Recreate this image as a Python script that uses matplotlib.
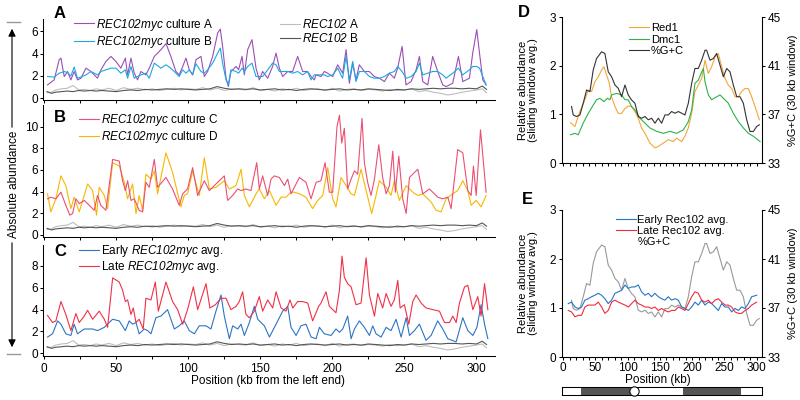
import numpy as np
import matplotlib
matplotlib.use("Agg")
import matplotlib.pyplot as plt
from matplotlib.lines import Line2D

matplotlib.rc('font', family='Liberation Sans', size=8.5)
# \mathsf is mapped to the italic face so digits come out slanted too
matplotlib.rc('mathtext', fontset='custom', sf='Liberation Sans:italic',
              it='Liberation Sans:italic', rm='Liberation Sans')
matplotlib.rc('axes', linewidth=0.75)

# ---- panel A: REC102myc cultures A and B (kb from left end)
pos_ab = [2.3, 6.9, 10.4, 11.6, 13.9, 16.2, 18.5, 20.8, 23.1, 25.5,
          29.0, 32.4, 37.0, 39.4, 42.8, 46.3, 49.8, 53.2, 56.3, 57.9,
          60.2, 62.5, 64.8, 67.1, 70.6, 72.9, 76.4, 81.0, 84.5, 87.9,
          91.4, 93.7, 96.1, 98.4, 100.7, 103.0, 105.3, 108.8, 111.1, 113.4,
          116.9, 120.4, 122.2, 123.8, 126.2, 127.8, 129.6, 133.1, 134.9, 137.3,
          138.9, 141.2, 144.2, 147.0, 149.3, 151.6, 155.1, 158.5, 160.9, 163.2,
          165.5, 169.0, 172.4, 175.9, 179.4, 182.8, 185.2, 187.5, 188.6, 192.1,
          194.4, 196.7, 200.2, 203.7, 207.1, 209.5, 211.8, 214.1, 216.4, 218.7,
          222.2, 225.7, 229.1, 232.6, 236.1, 239.6, 243.0, 245.3, 248.4, 251.1,
          254.6, 258.1, 260.4, 262.7, 266.2, 269.6, 273.1, 276.6, 278.9, 283.5,
          287.5, 290.5, 295.1, 297.4, 300.2, 302.1, 304.4, 306.7]
myc_a = [1.2, 1.65, 3.45, 3.6, 1.95, 2.4, 1.65, 2.4, 1.65, 1.8,
         2.7, 2.4, 1.8, 2.55, 3.3, 3.75, 3.3, 2.7, 3.6, 2.1,
         3.6, 2.25, 1.65, 2.4, 2.1, 2.7, 3.75, 4.35, 4.9, 3.75,
         2.4, 2.1, 2.85, 3.6, 2.55, 2.1, 3.45, 3.75, 1.95, 2.4,
         3.75, 5.85, 6.2, 4.65, 1.8, 1.05, 2.4, 2.85, 2.55, 3.75,
         2.1, 4.35, 5.25, 2.7, 1.65, 2.4, 1.8, 2.85, 4.05, 2.7,
         1.95, 2.4, 2.4, 3.75, 2.4, 2.4, 1.95, 1.65, 2.1, 1.95,
         2.4, 2.25, 1.95, 3.0, 2.25, 4.35, 1.35, 3.15, 1.65, 3.0,
         2.4, 2.4, 1.95, 1.8, 1.5, 2.25, 1.8, 2.7, 4.65, 1.2,
         1.5, 2.55, 3.75, 1.5, 1.2, 3.75, 2.4, 1.2, 1.05, 1.35,
         3.75, 1.5, 1.8, 4.05, 6.15, 4.05, 1.65, 1.2]
myc_b = [1.95, 1.9, 2.25, 2.3, 2.4, 2.3, 2.0, 2.8, 1.8, 1.9,
         2.1, 2.4, 2.1, 2.4, 2.55, 2.7, 2.7, 2.25, 2.55, 1.8,
         2.85, 1.8, 1.95, 2.1, 2.25, 1.8, 3.15, 2.7, 3.0, 2.7,
         2.25, 1.95, 2.55, 2.25, 2.55, 2.1, 3.1, 2.4, 2.25, 2.55,
         3.15, 4.05, 4.5, 3.15, 1.65, 1.2, 2.55, 2.4, 2.25, 2.7,
         2.4, 2.85, 3.15, 1.95, 1.95, 1.95, 2.55, 3.15, 3.0, 2.4,
         2.4, 2.4, 2.25, 2.4, 2.1, 2.4, 1.65, 2.1, 2.1, 2.1,
         2.1, 1.95, 2.1, 2.7, 1.8, 3.75, 1.65, 3.3, 1.5, 2.4,
         2.4, 1.95, 1.8, 1.8, 1.95, 2.25, 2.4, 2.85, 2.4, 1.8,
         1.95, 2.4, 3.15, 2.1, 2.25, 2.4, 2.4, 2.1, 1.8, 2.25,
         2.7, 2.1, 2.55, 2.85, 2.85, 2.7, 1.95, 1.2]

# ---- untagged REC102 controls (shown in A, B and C)
ctrl_pos = [2, 5, 8, 12, 16, 20, 24, 28, 32, 36, 40, 45, 50, 55, 60, 65, 70, 75,
            80, 85, 90, 95, 100, 105, 110, 115, 120, 125, 130, 135, 140, 145, 150,
            155, 160, 165, 170, 175, 180, 185, 190, 195, 200, 205, 210, 215, 220,
            225, 230, 235, 240, 245, 250, 255, 260, 265, 270, 275, 280, 285, 290,
            295, 300, 304, 307]
ctrl_a = [0.5, 0.55, 0.75, 0.85, 0.9, 1.15, 0.75, 0.8, 0.7, 0.85,
          0.75, 0.9, 0.7, 0.95, 0.8, 0.9, 0.75, 0.85, 0.7, 0.8,
          0.9, 0.75, 0.85, 0.8, 0.95, 0.75, 0.9, 0.7, 0.85, 0.8,
          0.75, 0.95, 0.7, 0.8, 0.65, 0.85, 0.75, 0.9, 0.7, 0.8,
          0.85, 0.7, 0.9, 0.65, 0.8, 0.85, 0.7, 0.8, 0.75, 0.65,
          0.8, 0.7, 0.75, 0.85, 0.6, 0.7, 0.55, 0.45, 0.3, 0.4,
          0.55, 0.65, 0.75, 0.85, 0.5]
ctrl_b = [0.6, 0.45, 0.55, 0.6, 0.65, 0.6, 0.7, 0.65, 0.7, 0.65,
          0.7, 0.65, 0.6, 0.7, 0.75, 0.7, 0.8, 0.75, 0.8, 0.85,
          0.8, 0.85, 0.8, 0.75, 0.8, 0.85, 1.05, 0.9, 0.8, 0.85,
          0.8, 0.85, 0.75, 0.8, 0.85, 0.75, 0.8, 0.7, 0.8, 0.85,
          0.8, 0.75, 0.8, 0.85, 0.75, 0.8, 0.75, 0.85, 0.8, 0.75,
          0.7, 0.8, 0.75, 0.85, 0.8, 0.85, 0.9, 0.85, 0.9, 0.9,
          0.85, 0.9, 0.85, 1.1, 0.8]

# ---- panel B: cultures C and D
pos_c = [2.3, 4.6, 8.1, 11.6, 15.0, 17.8, 19.7, 22.0, 24.3, 27.8,
         31.3, 34.7, 37.0, 39.3, 42.8, 47.5, 52.1, 54.4, 56.3, 57.9,
         60.2, 62.5, 65.9, 68.3, 70.6, 72.9, 76.4, 78.7, 84.5, 89.1,
         93.7, 96.1, 99.5, 103.0, 106.5, 111.1, 114.6, 119.2, 125.0, 127.3,
         130.8, 134.3, 136.6, 140.0, 143.5, 147.5, 149.3, 151.6, 155.1, 157.4,
         159.7, 163.2, 166.7, 169.0, 171.3, 173.6, 177.1, 181.7, 185.2, 188.7,
         192.1, 194.9, 197.9, 200.2, 203.2, 204.9, 206.5, 208.3, 210.6, 213.0,
         215.3, 217.6, 220.6, 222.2, 224.5, 226.8, 229.2, 232.2, 234.9, 237.3,
         239.6, 241.9, 243.7, 246.1, 248.8, 251.2, 253.5, 256.9, 259.3, 262.7,
         267.4, 273.1, 276.6, 280.1, 282.4, 287.0, 290.5, 294.0, 296.3, 297.9,
         299.8, 302.8, 306.7]
myc_c = [3.33, 3.48, 3.33, 3.94, 2.73, 1.82, 1.97, 3.33, 2.88, 3.18,
         2.73, 2.27, 3.64, 2.73, 2.27, 6.97, 6.82, 5.0, 4.09, 5.0,
         3.18, 3.33, 2.27, 2.12, 4.85, 4.39, 6.97, 4.39, 5.3, 4.24,
         2.73, 3.79, 4.24, 6.21, 3.64, 5.0, 4.09, 4.7, 5.45, 3.18,
         3.64, 4.24, 4.09, 4.24, 4.09, 6.67, 4.24, 5.45, 3.64, 5.15,
         5.45, 5.3, 4.55, 5.15, 3.79, 4.39, 5.3, 4.85, 3.33, 4.85,
         5.0, 6.67, 3.94, 3.94, 10.0, 11.06, 8.48, 9.85, 4.24, 5.15,
         5.91, 5.61, 10.76, 6.67, 4.85, 3.64, 5.15, 8.33, 5.3, 3.79,
         4.55, 7.73, 3.94, 7.27, 3.33, 1.97, 5.3, 5.76, 6.06, 3.79,
         4.24, 3.48, 3.33, 3.48, 2.42, 7.88, 7.58, 4.09, 3.64, 6.36,
         3.64, 9.7, 3.94]
pos_d = [2.3, 4.6, 8.1, 11.6, 15.0, 18.5, 20.8, 24.3, 27.8, 30.1,
         33.6, 36.3, 38.2, 41.7, 44.0, 47.5, 52.1, 55.6, 57.9, 61.3,
         63.7, 65.9, 68.3, 70.6, 74.1, 76.4, 78.7, 84.5, 89.1, 94.9,
         97.2, 99.5, 103.0, 107.6, 111.1, 114.6, 119.2, 125.0, 128.5, 133.1,
         136.6, 138.9, 142.4, 147.0, 149.3, 152.8, 156.3, 160.9, 164.4, 167.8,
         171.3, 173.6, 177.1, 181.7, 186.3, 189.8, 193.3, 196.8, 200.2, 202.5,
         206.0, 209.5, 213.0, 215.3, 219.9, 223.4, 227.3, 230.3, 232.6, 237.3,
         240.7, 243.0, 246.5, 251.2, 255.8, 259.3, 262.7, 268.5, 272.0, 275.5,
         278.9, 283.5, 287.0, 290.5, 294.0, 296.3, 299.8, 303.2, 306.7]
myc_d = [3.79, 2.12, 3.33, 5.45, 4.55, 2.42, 3.48, 2.12, 3.64, 4.7,
         4.09, 1.82, 4.39, 3.64, 2.42, 6.67, 6.36, 4.85, 3.33, 4.7,
         1.97, 3.64, 2.27, 5.61, 5.15, 5.91, 3.79, 7.58, 5.76, 2.58,
         3.64, 3.79, 5.91, 3.64, 7.12, 4.24, 4.39, 5.0, 4.24, 4.55,
         6.06, 3.64, 2.58, 3.79, 4.24, 3.33, 4.09, 2.73, 3.48, 3.48,
         3.94, 3.94, 3.79, 3.48, 2.42, 3.18, 3.64, 6.21, 3.33, 2.58,
         5.3, 4.55, 3.79, 3.64, 6.06, 4.09, 1.97, 3.64, 5.0, 4.39,
         3.64, 5.0, 3.18, 4.55, 3.94, 3.64, 3.79, 3.03, 2.27, 2.12,
         3.33, 3.79, 4.09, 5.0, 4.09, 2.73, 3.18, 2.58, 3.64]

# ---- panel C: early / late averages
pos_late = [2.3, 5.8, 8.1, 11.6, 15.0, 18.5, 22.0, 24.3, 27.8, 30.1,
            33.6, 38.2, 41.7, 44.0, 47.5, 52.1, 54.4, 56.3, 57.9, 60.2,
            61.8, 63.7, 65.9, 68.7, 70.6, 74.1, 77.1, 79.2, 84.5, 89.1,
            92.6, 96.1, 99.5, 103.5, 106.5, 112.3, 115.0, 118.8, 122.7, 126.2,
            129.6, 133.1, 135.4, 137.7, 140.0, 142.4, 145.8, 149.3, 151.6, 155.1,
            158.6, 160.9, 164.4, 167.8, 170.6, 172.5, 175.9, 179.4, 182.9, 186.3,
            190.5, 192.1, 195.6, 197.9, 202.5, 204.9, 206.7, 208.3, 210.6, 213.0,
            216.4, 219.9, 223.4, 225.7, 229.2, 231.5, 234.9, 237.3, 240.7, 243.0,
            245.4, 247.0, 250.0, 253.0, 255.8, 258.1, 261.6, 265.0, 269.7, 274.3,
            277.8, 281.3, 283.6, 285.9, 288.2, 291.7, 294.0, 297.5, 300.9, 303.2,
            305.6, 307.9]
late_avg = [3.46, 2.81, 2.96, 4.73, 3.55, 2.07, 3.64, 2.81, 3.4, 3.93,
            3.11, 3.85, 3.11, 2.37, 6.89, 6.51, 5.77, 4.73, 4.88, 3.55,
            4.14, 2.81, 3.11, 2.22, 5.03, 4.88, 6.51, 3.85, 6.51, 4.73,
            3.99, 2.66, 3.99, 6.07, 3.99, 6.36, 4.14, 4.44, 5.03, 5.03,
            3.99, 4.29, 4.73, 5.62, 3.55, 3.25, 3.85, 5.18, 3.85, 4.88,
            4.14, 5.62, 4.14, 3.85, 4.88, 4.14, 4.73, 4.73, 4.59, 2.96,
            4.29, 4.59, 5.62, 4.29, 3.7, 5.77, 8.88, 6.95, 6.36, 6.07,
            4.44, 4.59, 8.73, 5.33, 3.4, 5.47, 4.14, 5.47, 4.29, 4.88,
            6.66, 4.14, 4.44, 2.66, 4.73, 5.33, 4.59, 4.14, 3.99, 3.85,
            2.81, 2.81, 3.4, 2.81, 4.59, 6.07, 6.21, 3.99, 5.18, 3.4,
            6.36, 3.99]
pos_early = [2.3, 5.8, 9.3, 11.6, 15.0, 18.5, 20.8, 23.1, 27.8, 33.6,
             37.0, 41.7, 47.5, 52.1, 56.3, 59.0, 61.3, 63.7, 65.9, 69.4,
             71.8, 74.1, 77.5, 81.0, 85.6, 90.3, 93.7, 97.2, 100.7, 104.2,
             107.6, 112.3, 115.7, 119.2, 122.7, 125.0, 128.5, 130.8, 134.3, 136.6,
             138.9, 142.4, 145.8, 148.2, 152.8, 156.3, 160.9, 165.5, 169.0, 171.3,
             174.8, 178.2, 181.7, 185.2, 188.7, 191.0, 194.4, 199.1, 202.5, 204.9,
             207.2, 210.6, 213.0, 215.3, 218.7, 222.2, 225.7, 228.0, 230.3, 233.8,
             237.3, 240.7, 244.2, 247.7, 251.2, 253.5, 256.9, 260.4, 265.0, 268.5,
             273.1, 276.6, 280.1, 285.9, 290.5, 294.0, 297.5, 300.3, 303.2, 305.6,
             307.9]
early_avg = [1.48, 1.78, 2.96, 2.66, 1.78, 1.63, 2.66, 1.78, 2.22, 2.22,
             2.07, 2.37, 3.11, 2.96, 2.07, 2.96, 2.66, 2.81, 1.78, 2.22,
             2.07, 1.78, 3.25, 3.4, 3.99, 2.22, 2.51, 2.96, 2.07, 1.78,
             2.51, 2.51, 2.22, 3.85, 5.33, 3.4, 1.33, 2.51, 2.22, 2.66,
             1.63, 2.81, 4.29, 3.11, 2.51, 1.48, 2.66, 3.85, 4.29, 2.37,
             1.63, 2.51, 2.66, 1.48, 1.33, 2.37, 1.78, 1.63, 2.22, 1.92,
             2.22, 3.4, 1.33, 2.22, 2.96, 2.37, 1.63, 2.51, 1.78, 1.48,
             2.37, 2.07, 3.11, 1.48, 3.25, 1.63, 2.07, 2.66, 1.18, 1.63,
             2.96, 2.22, 1.33, 1.04, 3.25, 2.07, 1.63, 2.37, 4.44, 2.66,
             1.33]

# ---- panel D: sliding window averages
pos_red1 = [11.4, 18.1, 25.9, 33.6, 38.8, 44.0, 49.1, 54.3, 59.5, 63.1,
            67.2, 71.4, 75.0, 80.2, 85.3, 90.5, 95.7, 100.8, 106.0, 111.2,
            116.3, 121.5, 126.7, 134.4, 142.2, 147.4, 155.1, 162.9, 170.6, 175.8,
            183.6, 188.7, 193.9, 199.1, 204.2, 209.4, 214.6, 219.8, 224.9, 230.1,
            235.3, 240.4, 245.6, 250.8, 255.9, 261.1, 266.3, 271.5, 276.6, 281.8,
            287.0, 292.1, 297.3, 304.0]
red1 = [0.83, 0.75, 1.06, 1.3, 1.5, 1.47, 1.67, 1.77, 1.91, 1.98,
        1.81, 1.64, 1.36, 1.16, 1.02, 1.02, 1.12, 1.17, 1.16, 1.06,
        0.92, 0.72, 0.61, 0.41, 0.31, 0.34, 0.41, 0.48, 0.44, 0.51,
        0.44, 0.55, 0.72, 1.02, 1.47, 1.6, 1.74, 2.11, 1.84, 1.98,
        2.18, 2.25, 1.98, 1.74, 1.6, 1.53, 1.36, 1.36, 1.47, 1.53,
        1.53, 1.36, 1.16, 0.89]
pos_dmc1 = [11.4, 18.1, 23.3, 31.0, 38.8, 46.5, 51.7, 56.9, 63.1, 68.3,
            72.4, 75.0, 82.7, 90.5, 95.7, 100.8, 106.0, 111.2, 118.9, 126.7,
            134.4, 144.8, 155.1, 165.5, 175.8, 186.1, 193.9, 199.1, 204.2, 209.4,
            214.6, 217.2, 219.8, 224.9, 230.1, 237.8, 243.0, 248.2, 255.9, 263.7,
            271.5, 279.2, 287.0, 294.7, 305.1]
dmc1 = [0.58, 0.61, 0.58, 0.82, 1.02, 1.19, 1.3, 1.33, 1.26, 1.33,
        1.3, 1.4, 1.43, 1.4, 1.3, 1.3, 1.16, 1.09, 0.92, 0.82,
        0.72, 0.65, 0.61, 0.65, 0.61, 0.68, 0.85, 1.09, 1.64, 1.7,
        1.87, 1.94, 1.67, 1.4, 1.3, 1.36, 1.4, 1.33, 1.23, 1.02,
        0.85, 0.72, 0.61, 0.55, 0.44]
pos_gc = [12.9, 15.5, 20.7, 25.9, 31.0, 36.2, 41.4, 46.5, 51.7, 59.5,
          64.6, 69.8, 75.0, 80.2, 85.3, 90.5, 95.7, 100.8, 106.0, 111.2,
          116.3, 121.5, 126.7, 131.9, 137.0, 142.2, 147.4, 152.5, 157.7, 162.9,
          168.0, 173.2, 178.4, 183.6, 188.7, 193.9, 199.1, 204.2, 209.4, 214.6,
          219.8, 222.3, 227.5, 232.7, 237.8, 243.0, 248.2, 253.4, 258.5, 263.7,
          268.9, 274.0, 279.2, 284.4, 289.6, 294.7, 299.9, 304.0]
gc = [37.64, 36.95, 36.82, 36.95, 37.91, 39.0, 38.86, 40.64, 41.59, 42.14,
      42.0, 40.5, 40.09, 39.41, 39.14, 38.45, 39.41, 38.59, 38.18, 37.91,
      36.82, 36.68, 36.82, 36.55, 36.68, 36.27, 36.68, 36.27, 36.95, 36.95,
      37.23, 37.09, 37.23, 37.09, 36.95, 37.91, 39.55, 40.77, 40.77, 41.45,
      42.27, 42.27, 41.45, 41.59, 42.0, 41.05, 40.09, 40.77, 40.5, 39.41,
      38.45, 38.45, 37.91, 36.55, 35.59, 35.59, 36.0, 36.14]

# ---- panel E: Rec102 sliding window averages
pos_e = [7.8, 12.9, 18.1, 23.3, 28.4, 33.6, 38.8, 44.0, 49.1, 54.3,
         59.5, 64.6, 69.8, 75.0, 80.2, 85.3, 90.5, 95.7, 100.8, 106.0,
         111.2, 116.3, 121.5, 126.7, 131.9, 137.0, 142.2, 147.4, 152.5, 157.7,
         162.9, 168.0, 173.2, 178.4, 183.6, 188.7, 193.9, 199.1, 204.2, 209.4,
         214.6, 219.8, 224.9, 230.1, 235.3, 240.4, 245.6, 250.8, 255.9, 261.1,
         266.3, 271.5, 276.6, 281.8, 287.0, 292.1, 299.9]
early_e = [1.09, 1.12, 1.02, 0.99, 1.02, 1.16, 1.19, 1.23, 1.26, 1.3,
           1.26, 1.19, 1.09, 1.16, 1.3, 1.33, 1.36, 1.47, 1.4, 1.43,
           1.43, 1.47, 1.33, 1.26, 1.3, 1.23, 1.3, 1.23, 1.19, 1.16,
           1.23, 1.16, 1.19, 1.16, 1.02, 0.99, 0.95, 1.02, 1.12, 1.06,
           1.16, 1.06, 1.12, 1.09, 1.02, 0.95, 1.09, 1.02, 1.02, 0.92,
           0.99, 0.95, 1.02, 0.99, 1.09, 1.23, 1.26]
late_e = [0.95, 0.92, 0.82, 0.85, 0.85, 1.02, 1.06, 1.06, 1.06, 1.12,
          1.02, 0.89, 0.95, 1.12, 1.16, 1.12, 1.09, 1.06, 1.02, 1.09,
          1.16, 1.09, 1.06, 1.02, 1.02, 0.99, 1.02, 0.95, 0.99, 0.95,
          0.92, 0.95, 0.95, 1.02, 0.99, 0.95, 1.09, 1.23, 1.33, 1.3,
          1.16, 1.12, 1.16, 1.09, 1.16, 1.19, 1.12, 1.06, 1.06, 1.02,
          0.92, 0.89, 0.89, 0.95, 0.99, 1.06, 1.12]

# chromosome III map (kb): dark segments as (start, length), centromere
chrom_dark = [(27.4, 76.0), (185.1, 90.0)]
cen_pos = 109.6

LW = 0.8
ital = r'$\mathsf{REC102myc}$'


def left_axes(rect, ylim, yticks, xlabels=False):
    ax = fig.add_axes(rect)
    ax.set_xlim(-0.7, 313)
    ax.set_ylim(*ylim)
    ax.spines['top'].set_visible(False)
    ax.spines['right'].set_visible(False)
    ax.set_yticks(yticks)
    ax.set_xticks(np.arange(0, 301, 50))
    ax.set_xticks(np.arange(25, 313, 50), minor=True)
    ax.tick_params(which='both', length=2.5, width=0.75, pad=1)
    ax.tick_params(axis='x', which='both', pad=2.5)
    if not xlabels:
        ax.set_xticklabels([])
    ax.plot(ctrl_pos, ctrl_a, color='#bdbdbd', lw=LW)
    ax.plot(ctrl_pos, ctrl_b, color='#555555', lw=LW)
    return ax


def right_axes(rect, xlabels=False):
    ax = fig.add_axes(rect)
    ax.set_xlim(-2.5, 308.5)
    ax.set_ylim(0, 3)
    ax.set_yticks([0, 1, 2, 3])
    ax.set_xticks(np.arange(0, 301, 50))
    ax.set_xticks(np.arange(10, 301, 10), minor=True)
    ax.spines['top'].set_visible(False)
    ax.tick_params(which='both', length=2.5, width=0.75, pad=1.5)
    ax.tick_params(axis='x', which='both', pad=0.8)
    if not xlabels:
        ax.set_xticklabels([])
    ax2 = ax.twinx()
    ax2.set_ylim(33, 45)
    ax2.set_yticks([33, 37, 41, 45])
    ax2.spines['top'].set_visible(False)
    ax2.tick_params(length=2.5, width=0.75, pad=1.5)
    return ax, ax2


fig = plt.figure(figsize=(8, 4), dpi=100)
fig.patch.set_facecolor('white')

# A
axA = left_axes([0.054, 0.75, 0.565, 0.2025], (-0.15, 7.1), [0, 2, 4, 6])
la, = axA.plot(pos_ab, myc_a, color='#9b4fb4', lw=LW)
lb, = axA.plot(pos_ab, myc_b, color='#1aa8e2', lw=LW)
axA.legend([la, lb], [ital + ' culture A', ital + ' culture B'], loc='upper left',
           bbox_to_anchor=(0.069, 1.03), frameon=False, borderpad=0, borderaxespad=0,
           handlelength=1.7, handletextpad=0.15, labelspacing=0.12)
g1 = Line2D([], [], color='#bdbdbd', lw=LW)
g2 = Line2D([], [], color='#555555', lw=LW)
fig.legend([g1, g2], [r'$\mathsf{REC102}$ A', r'$\mathsf{REC102}$ B'], loc='upper left',
           bbox_to_anchor=(0.35, 0.955), frameon=False, borderpad=0, borderaxespad=0,
           handlelength=1.7, handletextpad=0.15, labelspacing=0.12)

# B
axB = left_axes([0.054, 0.4075, 0.565, 0.33], (-0.2, 12), [0, 2, 4, 6, 8, 10])
ld, = axB.plot(pos_d, myc_d, color='#f6b800', lw=LW)
lc, = axB.plot(pos_c, myc_c, color='#ec4f73', lw=LW)
axB.legend([lc, ld], [ital + ' culture C', ital + ' culture D'], loc='upper left',
           bbox_to_anchor=(0.08, 0.945), frameon=False, borderpad=0, borderaxespad=0,
           handlelength=1.7, handletextpad=0.15, labelspacing=0.05)

# C
axC = left_axes([0.054, 0.11, 0.565, 0.2775], (-0.25, 9.9), [0, 2, 4, 6, 8], xlabels=True)
le, = axC.plot(pos_early, early_avg, color='#2f74c2', lw=LW)
ll, = axC.plot(pos_late, late_avg, color='#f03048', lw=LW)
axC.legend([le, ll], ['Early ' + ital + ' avg.', 'Late ' + ital + ' avg.'], loc='upper left',
           bbox_to_anchor=(0.08, 1.02), frameon=False, borderpad=0, borderaxespad=0,
           handlelength=1.7, handletextpad=0.15, labelspacing=0.05)

# D
axD, axD2 = right_axes([0.702, 0.5925, 0.2508, 0.365])
lr1, = axD.plot(pos_red1, red1, color='#f5a53a', lw=LW)
ld1, = axD.plot(pos_dmc1, dmc1, color='#2db24a', lw=LW)
lgc, = axD2.plot(pos_gc, gc, color='#333333', lw=LW)
axD.legend([lr1, ld1, lgc], ['Red1', 'Dmc1', '%G+C'], loc='upper left', fontsize=8,
           bbox_to_anchor=(0.337, 0.96), frameon=False, borderpad=0, borderaxespad=0,
           handlelength=1.8, handletextpad=0.15, labelspacing=0.15)

# E
axE, axE2 = right_axes([0.702, 0.1075, 0.2508, 0.3675], xlabels=True)
axE.set_zorder(axE2.get_zorder() + 1)
axE.patch.set_visible(False)
lee, = axE.plot(pos_e, early_e, color='#2277c8', lw=LW)
lle, = axE.plot(pos_e, late_e, color='#ee2c40', lw=LW)
axE2.plot(pos_gc, gc, color='#999999', lw=LW)
axE.legend([lee, lle, Line2D([], [], color='none')],
           ['Early Rec102 avg.', 'Late Rec102 avg.', '%G+C'], loc='upper left', fontsize=8,
           bbox_to_anchor=(0.27, 0.965), frameon=False, borderpad=0, borderaxespad=0,
           handlelength=1.8, handletextpad=0.15, labelspacing=0.08)

# chromosome map under E
axM = fig.add_axes([0.702, 0.0125, 0.2508, 0.02])
axM.set_xlim(-2.5, 308.5)
axM.set_ylim(0, 1)
axM.broken_barh(chrom_dark, (0, 1), facecolor='#555555')
axM.scatter([cen_pos], [0.5], s=45, facecolor='white', edgecolor='black', lw=0.75,
            zorder=3, clip_on=False)
axM.set_xticks([])
axM.set_yticks([])

# texts
fig.text(0.075, 0.965, 'A', fontsize=12, fontweight='bold', ha='center', va='center')
fig.text(0.075, 0.705, 'B', fontsize=12, fontweight='bold', ha='center', va='center')
fig.text(0.075, 0.37, 'C', fontsize=12, fontweight='bold', ha='center', va='center')
fig.text(0.655, 0.968, 'D', fontsize=12, fontweight='bold', ha='center', va='center')
fig.text(0.659, 0.5, 'E', fontsize=12, fontweight='bold', ha='center', va='center')

fig.text(0.017, 0.54, 'Absolute abundance', rotation=90, ha='center', va='center', fontsize=8.5)
fig.text(0.335, 0.047, 'Position (kb from the left end)', ha='center', va='center', fontsize=8.5)
fig.text(0.8225, 0.049, 'Position (kb)', ha='center', va='center', fontsize=8.5)
for yc in (0.775, 0.2925):
    fig.text(0.66, yc, 'Relative abundance\n(sliding window avg.)', rotation=90,
             ha='center', va='center', fontsize=8, linespacing=1.05)
    fig.text(0.991, yc, '%G+C (30 kb window)', rotation=90, ha='center', va='center', fontsize=8)

# arrow of the shared y label
arr = dict(arrowstyle='-|>', color='black', lw=0.8, mutation_scale=11)
fig.add_artist(plt.Line2D([0.009, 0.025], [0.945, 0.945], color='#999999', lw=1))
fig.add_artist(plt.Line2D([0.009, 0.025], [0.115, 0.115], color='#999999', lw=1))
plt.annotate('', xy=(0.015, 0.935), xytext=(0.015, 0.675), xycoords='figure fraction',
             arrowprops=arr)
plt.annotate('', xy=(0.015, 0.125), xytext=(0.015, 0.40), xycoords='figure fraction',
             arrowprops=arr)

fig.savefig('out.png', dpi=100)
